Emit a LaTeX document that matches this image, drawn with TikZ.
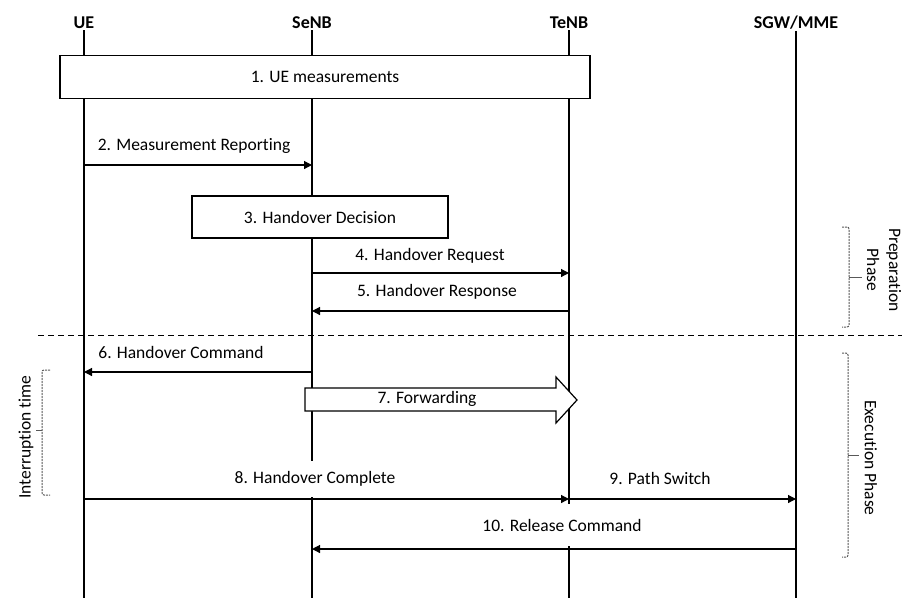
\documentclass[tikz,border=0pt]{standalone}
\usepackage{fontspec}
\setmainfont{Carlito}[Ligatures=NoCommon]
\usetikzlibrary{arrows.meta}

\tikzset{
  head/.style={font=\fontsize{18}{20}\selectfont\bfseries, inner sep=1pt},
  txt/.style={font=\fontsize{17.5}{22}\selectfont},
  life/.style={line width=2pt},
  msg/.style={-{Triangle[length=8pt,width=8pt]}, line width=1.2pt},
  lbl/.style={txt, fill=white, inner sep=2pt},
  stepbox/.style={draw, fill=white, line width=1.2pt, txt},
  brace/.style={line width=1pt, black!65, dash pattern=on 2pt off 1pt, rounded corners=2pt},
}

\begin{document}
\begin{tikzpicture}[x=1pt,y=-1pt]
		\useasboundingbox (0,0) rectangle (902,598);
		% entities
		\node[head] (ue) at (84,23) {UE};
		\node[head] (senb) at (312,23) {SeNB};
		\node[head] (tenb) at (569,23) {TeNB};
		\node[head] (sgw) at (796,23) {SGW/MME};
		\coordinate (ueend) at (84,598);
		\coordinate (senbend) at (312,598);
		\coordinate (tenbend) at (569,598);
		\coordinate (sgwend) at (796,598);
		\draw[life] (ue.south) -- (ueend);
		\draw[life] (senb.south) -- (senbend);
		\draw[life] (tenb.south) -- (tenbend);
		\draw[life] (sgw.south) -- (sgwend);

		% steps
		\node[stepbox, minimum width=530, minimum height=43] (meas) at (325,77) {1. UE measurements};
		\node[stepbox, minimum width=256, minimum height=42] (dec) at (320,217) {3. Handover Decision};

		% phase separator
		\coordinate (sepl) at (38,335);
		\coordinate (sepr) at (902,335);
		\draw[line width=1pt, dash pattern=on 6pt off 4pt] (sepl) -- (sepr);

		% message labels
		\node[lbl] (l2) at (194,146) {2. Measurement Reporting};
		\node[lbl] (l4) at (430,256) {4. Handover Request};
		\node[lbl] (l5) at (437,292) {5. Handover Response};
		\node[lbl] (l6) at (181,352) {6. Handover Command};
		\node[lbl, minimum height=36] (l8) at (315,479) {8. Handover Complete};
		\node[lbl] (l9) at (660,478) {9. Path Switch};
		\node[lbl, minimum height=42] (l10) at (562,525) {10. Release Command};

		% messages
		\coordinate (m2a) at (84,165);   \coordinate (m2b) at (312,165);
		\coordinate (m4a) at (312,273);  \coordinate (m4b) at (569,273);
		\coordinate (m5a) at (569,311);  \coordinate (m5b) at (312,311);
		\coordinate (m6a) at (312,372);  \coordinate (m6b) at (84,372);
		\coordinate (m8a) at (84,499);   \coordinate (m8b) at (569,499);
		\coordinate (m9a) at (569,499);  \coordinate (m9b) at (796,499);
		\coordinate (m10a) at (796,549); \coordinate (m10b) at (312,549);
		\draw[msg] (m2a) -- (m2b);
		\draw[msg] (m4a) -- (m4b);
		\draw[msg] (m5a) -- (m5b);
		\draw[msg] (m6a) -- (m6b);
		\draw[msg] (m8a) -- (m8b);
		\draw[msg] (m9a) -- (m9b);
		\draw[msg] (m10a) -- (m10b);

		% forwarding
		\draw[fill=white, line width=1.2pt] (305,388) -- (556,388) -- (556,377) -- (577,400)
			-- (556,423) -- (556,411) -- (305,411) -- cycle;
		\node[txt] (fwd) at (427,399) {7. Forwarding};

		% phases
		\draw[brace] (842,227) -- (849,227) -- (849,327) -- (842,327);
		\draw[brace, solid, line width=0.8pt] (849,277) -- (862,277);
		\node[txt, rotate=-90, align=center] (prep) at (884,270) {Preparation\\Phase};
		\draw[brace] (842,353) -- (848,353) -- (848,557) -- (842,557);
		\draw[brace, solid, line width=0.8pt] (848,455) -- (859,455);
		\node[txt, rotate=-90] (exec) at (871,458) {Execution Phase};
		\draw[brace] (50,370) -- (42,370) -- (42,495) -- (50,495);
		\draw[brace, solid, line width=0.8pt] (42,430) -- (36,430);
		\node[txt, rotate=90] (intr) at (26,437) {Interruption time};
\end{tikzpicture}
\end{document}
